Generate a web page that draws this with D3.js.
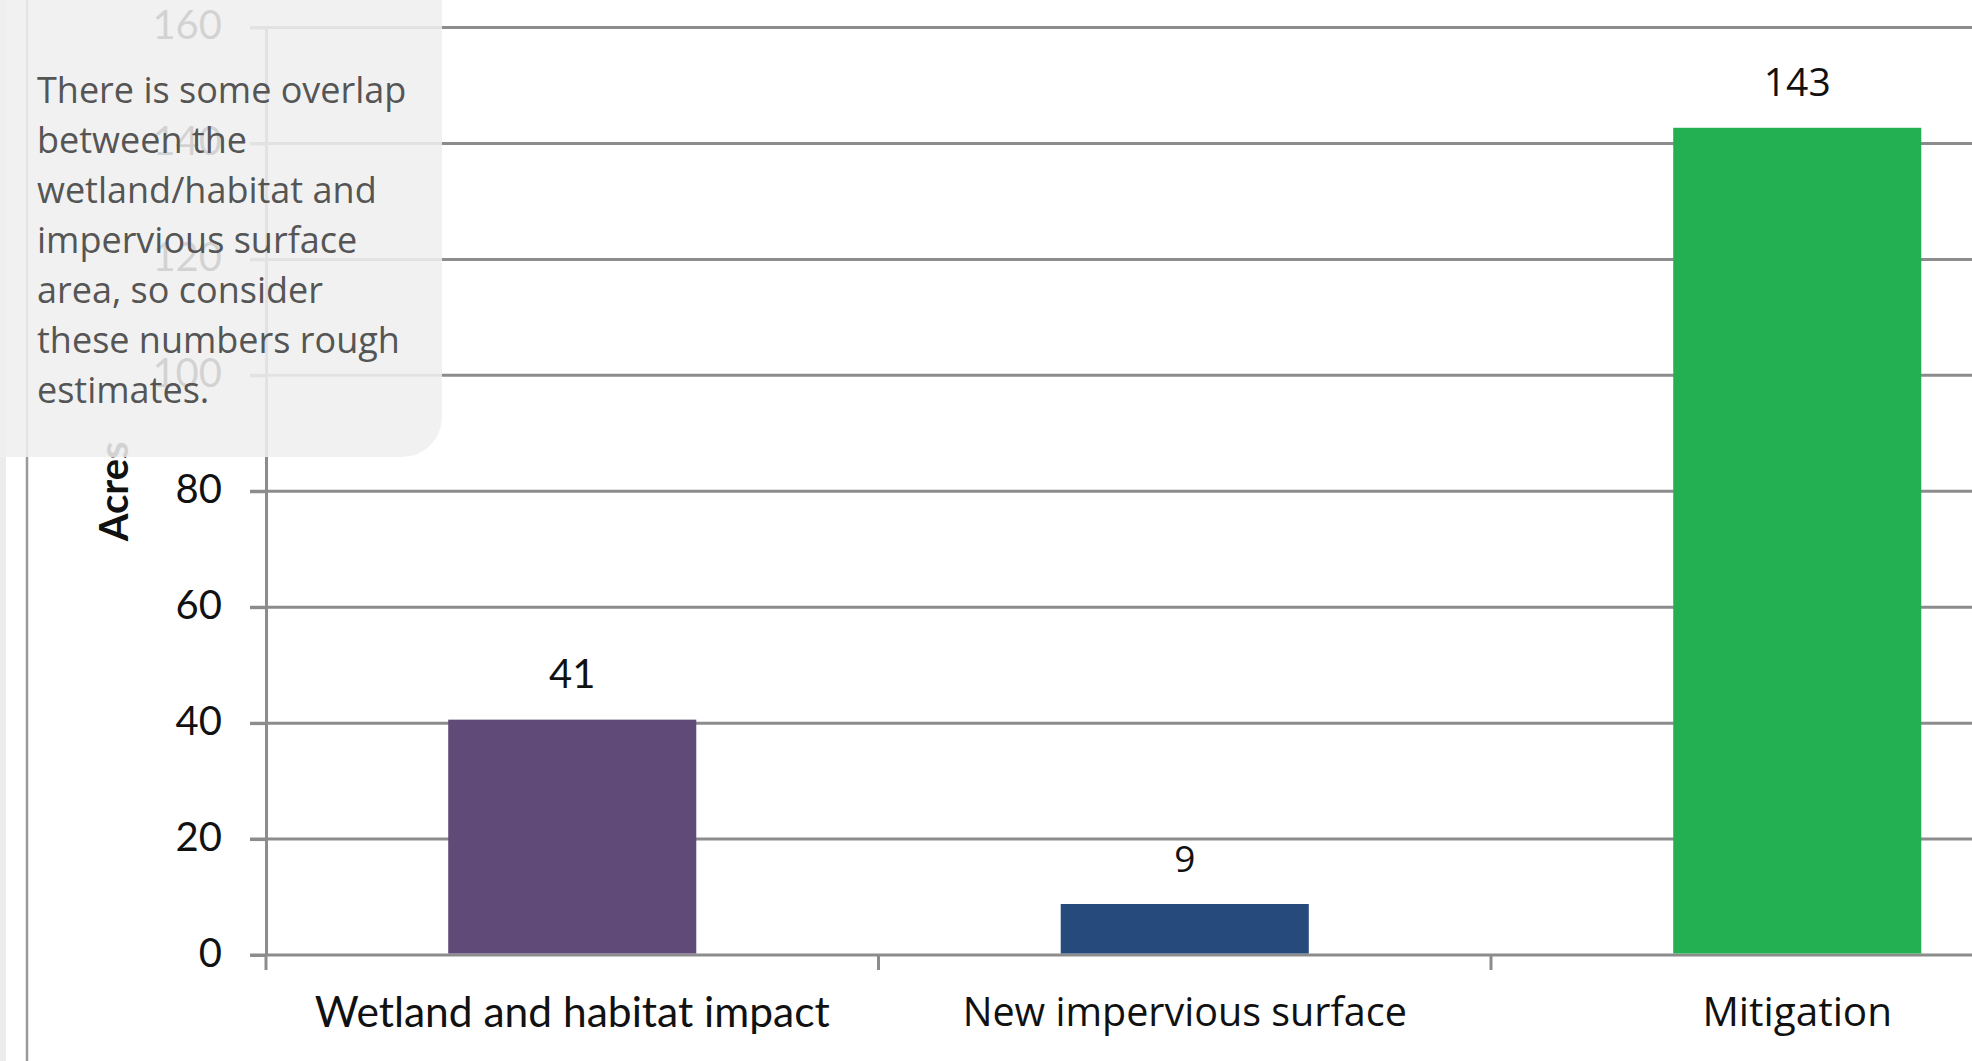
<!DOCTYPE html>
<html>
<head>
<meta charset="utf-8">
<script src="https://cdn.jsdelivr.net/npm/d3@7"></script>
<style>
  html, body { margin: 0; padding: 0; background: #ffffff; overflow: hidden; }
  svg { display: block; }
</style>
</head>
<body>
<svg id="chart" width="1972" height="1061"></svg>
<script>
// ---- data ----
const categories = ["Wetland and habitat impact", "New impervious surface", "Mitigation"];
const values = [40.6, 8.8, 142.7];
const valueLabels = ["41", "9", "143"];
const yTicks = [0, 20, 40, 60, 80, 100, 120, 140, 160];
const barColors = ["#5f4a78", "#254a7b", "#22b052"];
const axisTitle = "Acres";
const noteLines = [
  "There is some overlap",
  "between the",
  "wetland/habitat and",
  "impervious surface",
  "area, so consider",
  "these numbers rough",
  "estimates."
];

// ---- layout ----
const W = 1972, H = 1061;
const svg = d3.select("#chart");
const calibriLike = "Lato, 'Open Sans', sans-serif";
const segoeLike = "'Open Sans', 'Noto Sans', sans-serif";
const gridColor = "#8c8c8c";

const y = d3.scaleLinear().domain([0, 160]).range([955, 27.5]);
const x = d3.scaleBand().domain(categories)
  .range([266, 2103.5]).paddingInner(0.595).paddingOuter(0.2975);

// left page strip and frame line
svg.append("rect").attr("x", 0).attr("y", 0).attr("width", 6).attr("height", H).attr("fill", "#ececec");
svg.append("line").attr("x1", 27).attr("x2", 27).attr("y1", 0).attr("y2", H)
  .attr("stroke", "#9a9a9a").attr("stroke-width", 2.5);

// gridlines
svg.append("g").selectAll("line").data(yTicks.filter(d => d > 0)).join("line")
  .attr("x1", 250).attr("x2", W)
  .attr("y1", d => y(d)).attr("y2", d => y(d))
  .attr("stroke", gridColor).attr("stroke-width", 3);

// y axis
const yAxis = svg.append("g").attr("transform", "translate(266,0)")
  .call(d3.axisLeft(y).tickValues(yTicks).tickSize(16).tickSizeOuter(0).tickPadding(28));
yAxis.select(".domain").attr("stroke", gridColor).attr("stroke-width", 3);
yAxis.selectAll(".tick line").attr("stroke", gridColor).attr("stroke-width", 3);
yAxis.selectAll(".tick text").attr("font-family", calibriLike).attr("font-size", 40)
  .attr("fill", "#111").attr("dy", "0.28em");

// x axis baseline + boundary ticks
const gap = (x.step() - x.bandwidth()) / 2;
const boundaries = categories.map(c => x(c) - gap);
svg.append("line").attr("x1", 250).attr("x2", W).attr("y1", y(0)).attr("y2", y(0))
  .attr("stroke", gridColor).attr("stroke-width", 3);
svg.append("g").selectAll("line").data(boundaries).join("line")
  .attr("x1", d => d).attr("x2", d => d).attr("y1", y(0)).attr("y2", y(0) + 15)
  .attr("stroke", gridColor).attr("stroke-width", 3);

// bars
svg.append("g").selectAll("rect").data(categories).join("rect")
  .attr("x", d => x(d)).attr("width", x.bandwidth())
  .attr("y", (d, i) => y(values[i])).attr("height", (d, i) => y(0) - y(values[i]) - 1.5)
  .attr("fill", (d, i) => barColors[i]);

// value labels
const labelFonts = [calibriLike, segoeLike, segoeLike];
const labelSizes = [40, 37, 39];
svg.append("g").selectAll("text").data(categories).join("text")
  .attr("x", d => x(d) + x.bandwidth() / 2)
  .attr("y", (d, i) => y(values[i]) - 32)
  .attr("text-anchor", "middle")
  .attr("font-family", (d, i) => labelFonts[i])
  .attr("font-size", (d, i) => labelSizes[i])
  .attr("fill", "#111")
  .text((d, i) => valueLabels[i]);

// category labels
const catFonts = [calibriLike, segoeLike, segoeLike];
const catSizes = [42.5, 39.5, 40.5];
const catBase = [1027, 1025.5, 1025.5];
svg.append("g").selectAll("text").data(categories).join("text")
  .attr("x", d => x(d) + x.bandwidth() / 2)
  .attr("y", (d, i) => catBase[i])
  .attr("text-anchor", "middle")
  .attr("font-family", (d, i) => catFonts[i])
  .attr("font-size", (d, i) => catSizes[i])
  .attr("fill", "#111")
  .text(d => d);

// axis title
svg.append("text")
  .attr("transform", `translate(128,${(y(0) + y(160)) / 2}) rotate(-90)`)
  .attr("text-anchor", "middle")
  .attr("font-family", calibriLike).attr("font-weight", 700).attr("font-size", 40)
  .attr("fill", "#111")
  .text(axisTitle);

// overlay note box
const bw = 442, bh = 457, r = 40;
svg.append("path")
  .attr("d", `M0,0 H${bw} V${bh - r} A${r},${r} 0 0 1 ${bw - r},${bh} H0 Z`)
  .attr("fill", "rgba(239,239,239,0.87)");
svg.append("g").selectAll("text").data(noteLines).join("text")
  .attr("x", 37).attr("y", (d, i) => 102.5 + i * 50)
  .attr("font-family", segoeLike).attr("font-size", 36)
  .attr("fill", "#555555")
  .text(d => d);
</script>
</body>
</html>
